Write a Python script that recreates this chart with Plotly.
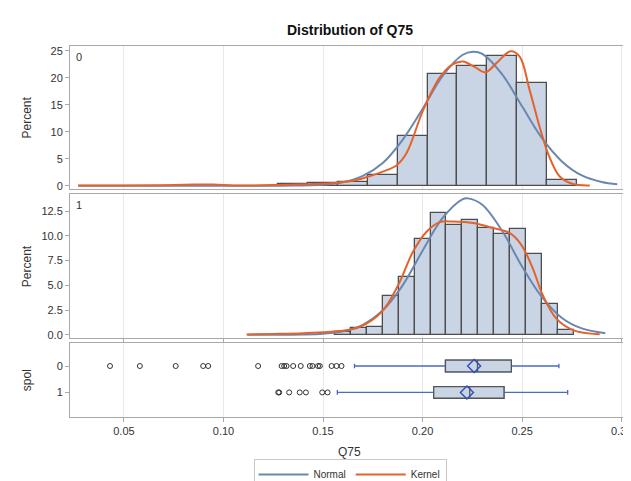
import plotly.graph_objects as go

# ---------------- data ----------------
top_bin_centers = [0.135, 0.150, 0.165, 0.180, 0.195, 0.210, 0.225, 0.240, 0.255, 0.270]
top_pct = [0.3, 0.45, 0.75, 2.0, 9.2, 20.6, 22.1, 24.1, 19.0, 1.0]
top_bin_width = 0.015

mid_bin_centers = [0.160, 0.168, 0.176, 0.184, 0.192, 0.200, 0.208, 0.216, 0.224,
                   0.232, 0.240, 0.248, 0.256, 0.264, 0.272]
mid_pct = [0.25, 0.65, 0.75, 3.9, 5.8, 9.65, 12.35, 11.1, 11.6, 10.8, 10.2, 10.7, 8.2, 3.1, 0.45]
mid_bin_width = 0.008

top_normal_x = [0.027, 0.10, 0.13, 0.15, 0.16, 0.17, 0.18, 0.19, 0.20, 0.21, 0.22, 0.2254,
                0.23, 0.24, 0.25, 0.26, 0.27, 0.28, 0.29, 0.2978]
top_normal_y = [0.0, 0.0, 0.01, 0.18, 0.63, 1.8, 4.2, 8.5, 14.2, 20.3, 24.2, 24.8,
                24.4, 20.6, 14.7, 8.8, 4.5, 1.9, 0.68, 0.26]

top_kernel_x = [0.027, 0.05, 0.07, 0.085, 0.095, 0.105, 0.115, 0.13, 0.145, 0.157, 0.165,
                0.172, 0.18, 0.187, 0.1919, 0.2003, 0.2086, 0.2153, 0.2203, 0.2261, 0.2316,
                0.2371, 0.2443, 0.2488, 0.2538, 0.2588, 0.263, 0.2689, 0.2756, 0.284]
top_kernel_y = [0.02, 0.05, 0.1, 0.2, 0.2, 0.05, 0.05, 0.15, 0.3, 0.55, 0.9,
                1.6, 2.6, 3.8, 6.0, 14.0, 20.0, 22.5, 23.0, 22.0, 21.0,
                22.7, 24.9, 23.9, 17.7, 10.9, 6.0, 1.7, 0.3, 0.05]

mid_normal_x = [0.112, 0.13, 0.14, 0.15, 0.16, 0.17, 0.18, 0.19, 0.20, 0.21, 0.22, 0.2228,
                0.23, 0.24, 0.25, 0.26, 0.27, 0.28, 0.2918]
mid_normal_y = [0.0, 0.0, 0.02, 0.1, 0.34, 1.01, 2.47, 5.0, 8.5, 11.8, 13.7, 13.8,
                13.15, 10.5, 6.9, 3.8, 1.7, 0.64, 0.16]

mid_kernel_x = [0.1116, 0.125, 0.14, 0.15, 0.158, 0.1685, 0.1794, 0.1877, 0.1952, 0.2019,
                0.2086, 0.2153, 0.2254, 0.2354, 0.2437, 0.2496, 0.2554, 0.2604, 0.2671,
                0.2756, 0.289]
mid_kernel_y = [0.03, 0.08, 0.15, 0.25, 0.37, 0.8, 2.3, 5.0, 8.4, 10.4,
                11.4, 11.45, 11.3, 10.8, 10.3, 9.1, 6.7, 4.0, 1.66,
                0.47, 0.04]

groups = ["0", "1"]
q1 = [0.2115, 0.2056]
median = [0.2276, 0.2237]
q3 = [0.2446, 0.2409]
lower_whisker = [0.1658, 0.1572]
upper_whisker = [0.2685, 0.2729]
means = [0.2259, 0.2223]
outliers_0 = [0.0430, 0.0580, 0.0760, 0.0898, 0.0923, 0.1174, 0.1292, 0.1305, 0.1317,
              0.1350, 0.1388, 0.1434, 0.1447, 0.1475, 0.1484, 0.1543, 0.1568, 0.1593]
outliers_1 = [0.1275, 0.1280, 0.1330, 0.1383, 0.1414, 0.1496, 0.1523]

x_ticks = [0.05, 0.10, 0.15, 0.20, 0.25, 0.30]
x_tick_text = ["0.05", "0.10", "0.15", "0.20", "0.25", "0.30"]
top_y_ticks = [0, 5, 10, 15, 20, 25]
mid_y_ticks = [0, 2.5, 5, 7.5, 10, 12.5]
mid_y_tick_text = ["0.0", "2.5", "5.0", "7.5", "10.0", "12.5"]

# ---------------- style ----------------
BAR_FILL = "#c9d5e5"
BAR_LINE = "#4d4d4d"
NORMAL_C = "#6b87b0"
KERNEL_C = "#e4622c"
WHISK_C = "#4a6cc0"
FRAME_C = "#a9a9a9"
GRID_C = "#e8e8e8"
FONT = "Liberation Sans, Arial, sans-serif"

W, H = 623, 473  # page body has an 8px margin in the browser
ML, MT, MB, MR = 62, 38, 64, 3
PW, PH = W - ML - MR, H - MT - MB

fig = go.Figure()

fig.add_trace(go.Bar(x=top_bin_centers, y=top_pct, width=[top_bin_width] * len(top_pct),
                     marker=dict(color=BAR_FILL, line=dict(color=BAR_LINE, width=1.3)),
                     xaxis="x", yaxis="y", showlegend=False))
fig.add_trace(go.Bar(x=mid_bin_centers, y=mid_pct, width=[mid_bin_width] * len(mid_pct),
                     marker=dict(color=BAR_FILL, line=dict(color=BAR_LINE, width=1.3)),
                     xaxis="x", yaxis="y2", showlegend=False))

fig.add_trace(go.Scatter(x=top_normal_x, y=top_normal_y, mode="lines",
                         line=dict(color=NORMAL_C, width=2, shape="spline"),
                         name="Normal", legendgroup="n", showlegend=True, xaxis="x", yaxis="y"))
fig.add_trace(go.Scatter(x=top_kernel_x, y=top_kernel_y, mode="lines",
                         line=dict(color=KERNEL_C, width=2, shape="spline"),
                         name="Kernel", legendgroup="k", showlegend=True, xaxis="x", yaxis="y"))
fig.add_trace(go.Scatter(x=mid_normal_x, y=mid_normal_y, mode="lines",
                         line=dict(color=NORMAL_C, width=2, shape="spline"),
                         name="Normal", legendgroup="n", showlegend=False, xaxis="x", yaxis="y2"))
fig.add_trace(go.Scatter(x=mid_kernel_x, y=mid_kernel_y, mode="lines",
                         line=dict(color=KERNEL_C, width=2, shape="spline"),
                         name="Kernel", legendgroup="k", showlegend=False, xaxis="x", yaxis="y2"))

for i, g in enumerate(groups):
    fig.add_trace(go.Box(y=[i], q1=[q1[i]], median=[median[i]], q3=[q3[i]],
                         lowerfence=[lower_whisker[i]], upperfence=[upper_whisker[i]],
                         orientation="h", width=0.44, whiskerwidth=0.4,
                         fillcolor=BAR_FILL, line=dict(color=WHISK_C, width=1.3),
                         boxpoints=False, showlegend=False, hoverinfo="skip",
                         xaxis="x", yaxis="y3"))
    fig.add_trace(go.Box(y=[i], q1=[q1[i]], median=[median[i]], q3=[q3[i]],
                         lowerfence=[q1[i]], upperfence=[q3[i]],
                         orientation="h", width=0.44, whiskerwidth=0,
                         fillcolor=BAR_FILL, line=dict(color="#555555", width=1.3),
                         boxpoints=False, showlegend=False, hoverinfo="skip",
                         xaxis="x", yaxis="y3"))

fig.add_trace(go.Scatter(x=means, y=[0, 1], mode="markers",
                         marker=dict(symbol="diamond-open", size=10, color="#2f4fb5",
                                     line=dict(width=1.4, color="#2f4fb5")),
                         showlegend=False, xaxis="x", yaxis="y3"))
fig.add_trace(go.Scatter(x=outliers_0, y=[0] * len(outliers_0), mode="markers",
                         marker=dict(symbol="circle-open", size=5, color="#333333",
                                     line=dict(width=1, color="#333333")),
                         showlegend=False, xaxis="x", yaxis="y3"))
fig.add_trace(go.Scatter(x=outliers_1, y=[1] * len(outliers_1), mode="markers",
                         marker=dict(symbol="circle-open", size=5, color="#333333",
                                     line=dict(width=1, color="#333333")),
                         showlegend=False, xaxis="x", yaxis="y3"))

tickfont = dict(family=FONT, size=11, color="#333333")
titlefont = dict(family=FONT, size=12, color="#333333")

ytitle_x = (27 - 8 - ML) / PW  # page x 27


def ytitle(text, yref):
    return dict(text=text, xref="paper", yref=yref, x=ytitle_x, y=0.5, xanchor="center",
                yanchor="middle", textangle=-90, showarrow=False, font=titlefont)


fig.update_layout(
    width=W, height=H,
    margin=dict(l=ML, r=MR, t=MT, b=MB, autoexpand=False),
    paper_bgcolor="white", plot_bgcolor="white",
    font=dict(family=FONT, color="#333333"),
    title=dict(text="<b>Distribution of Q75</b>", x=(350 - 8) / W, xanchor="center",
               xref="container", yref="container",
               y=1 - 22 / H, yanchor="middle", font=dict(size=14, color="#111111"),
               automargin=False),
    barmode="overlay", bargap=0,
    boxmode="overlay",
    xaxis=dict(domain=[0, 1], anchor="y3", range=[0.0229, 0.3032], tickvals=x_ticks,
               ticktext=x_tick_text, ticks="outside", ticklen=4, tickcolor=FRAME_C,
               showgrid=True, gridcolor=GRID_C, zeroline=False, automargin=False,
               showline=True, linecolor=FRAME_C, mirror="all", tickfont=tickfont,
               ticklabeloverflow="allow"),
    yaxis=dict(domain=[0.6146, 1], anchor="x", range=[-0.61, 25.87], tickvals=top_y_ticks,
               ticks="outside", ticklen=4, tickcolor=FRAME_C, showgrid=False, zeroline=False,
               showline=True, linecolor=FRAME_C, mirror=True, tickfont=tickfont, automargin=False),
    yaxis2=dict(domain=[0.2121, 0.601], anchor="x", range=[-0.36, 14.24], tickvals=mid_y_ticks,
                ticktext=mid_y_tick_text,
                ticks="outside", ticklen=4, tickcolor=FRAME_C, showgrid=False, zeroline=False,
                showline=True, linecolor=FRAME_C, mirror=True, tickfont=tickfont, automargin=False),
    yaxis3=dict(domain=[0, 0.1987], anchor="x", range=[1.93, -0.86], tickvals=[0, 1],
                ticktext=groups,
                ticks="outside", ticklen=4, tickcolor=FRAME_C, showgrid=False, zeroline=False,
                showline=True, linecolor=FRAME_C, mirror=True, tickfont=tickfont, automargin=False),
    legend=dict(orientation="h", x=(350 - 70) / PW, xanchor="center", y=-0.113, yanchor="top",
                bordercolor="#c8c8c8", borderwidth=1, bgcolor="white",
                font=dict(family=FONT, size=10, color="#333333"), itemwidth=50,
                tracegroupgap=0),
    annotations=[
        dict(text="0", xref="x domain", yref="y domain", x=0.008, y=0.923, xanchor="left",
             yanchor="middle", showarrow=False, font=dict(family=FONT, size=11, color="#333333")),
        dict(text="1", xref="x domain", yref="y2 domain", x=0.008, y=0.924, xanchor="left",
             yanchor="middle", showarrow=False, font=dict(family=FONT, size=11, color="#333333")),
        ytitle("Percent", "y domain"),
        ytitle("Percent", "y2 domain"),
        ytitle("spol", "y3 domain"),
        dict(text="Q75", xref="paper", yref="paper", x=(349 - 70) / PW,
             y=-(452 - 8 - (H - MB)) / PH, xanchor="center", yanchor="middle",
             showarrow=False, font=titlefont),
    ],
)

fig.write_html("out.html")
